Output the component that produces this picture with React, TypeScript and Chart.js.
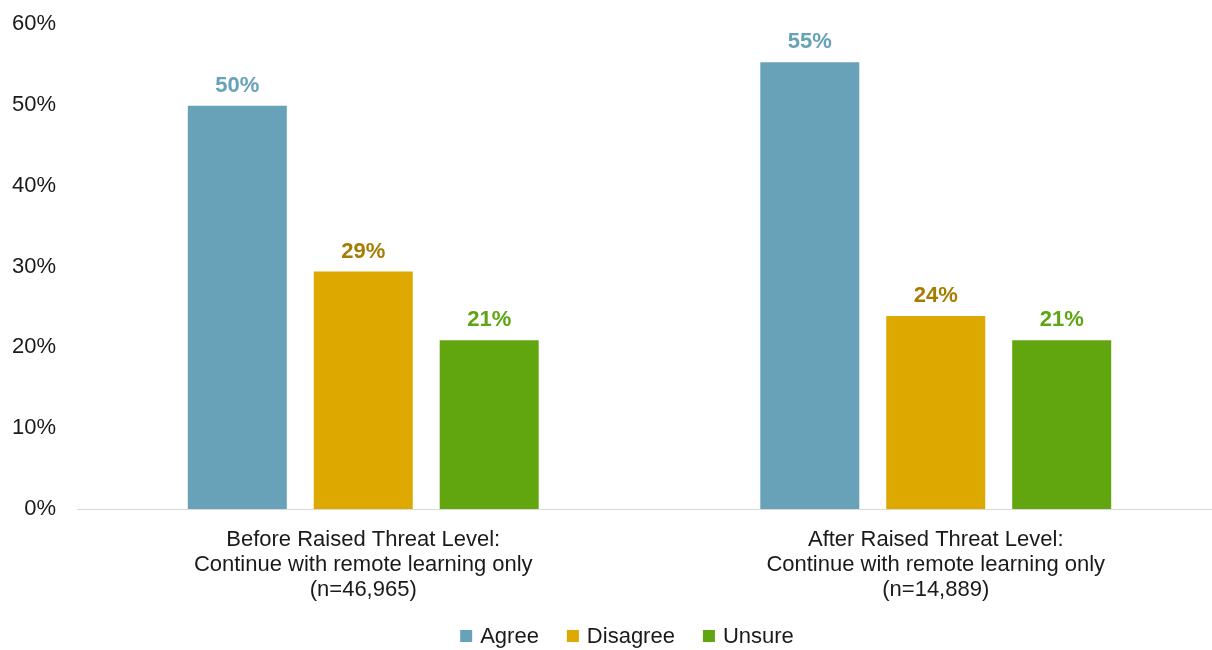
import React, { useEffect, useRef } from "react";
import { Chart, registerables } from "chart.js";

Chart.register(...registerables);

const categories: string[][] = [
  ["Before Raised Threat Level:", "Continue with remote learning only", "(n=46,965)"],
  ["After Raised Threat Level:", "Continue with remote learning only", "(n=14,889)"],
];
const agree = [49.9, 55.3];
const disagree = [29.4, 23.9];
const unsure = [20.9, 20.9];
const yTicks = [0, 10, 20, 30, 40, 50, 60];

const seriesNames = ["Agree", "Disagree", "Unsure"];
const barColors = ["#68A2B9", "#DDA900", "#62A60F"];
const labelColors = ["#68A2B9", "#A67C00", "#5EA514"];

const FONT = "'Liberation Sans', Arial, sans-serif";

const valueLabels = {
  id: "valueLabels",
  afterDatasetsDraw(chart: any) {
    const ctx = chart.ctx;
    ctx.save();
    ctx.font = `bold 22px ${FONT}`;
    ctx.textAlign = "center";
    ctx.textBaseline = "bottom";
    chart.data.datasets.forEach((ds: any, i: number) => {
      const meta = chart.getDatasetMeta(i);
      meta.data.forEach((el: any, j: number) => {
        ctx.fillStyle = labelColors[i];
        ctx.fillText(Math.round(ds.data[j]) + "%", el.x, el.y - 9);
      });
    });
    ctx.restore();
  },
};

const bottomLegend = {
  id: "bottomLegend",
  afterDraw(chart: any) {
    const ctx = chart.ctx;
    ctx.save();
    ctx.font = `22px ${FONT}`;
    ctx.textBaseline = "middle";
    ctx.textAlign = "left";
    const box = 12;
    const gap = 8;
    const itemGap = 28;
    const widths = chart.data.datasets.map((ds: any) => ctx.measureText(ds.label).width);
    const total =
      widths.reduce((a: number, w: number) => a + box + gap + w, 0) + itemGap * (widths.length - 1);
    let x = chart.width / 2 + 16 - total / 2;
    const y = chart.height - 14;
    chart.data.datasets.forEach((ds: any, i: number) => {
      ctx.fillStyle = ds.backgroundColor;
      ctx.fillRect(x, y - box / 2, box, box);
      x += box + gap;
      ctx.fillStyle = "#1a1a1a";
      ctx.fillText(ds.label, x, y + 1);
      x += widths[i] + itemGap;
    });
    ctx.restore();
  },
};

export default function App() {
  const ref = useRef<HTMLCanvasElement>(null);
  useEffect(() => {
    const chart = new Chart(ref.current!, {
      type: "bar",
      data: {
        labels: categories,
        datasets: [agree, disagree, unsure].map((d, i) => ({
          label: seriesNames[i],
          data: d,
          backgroundColor: barColors[i],
          borderWidth: 0,
          categoryPercentage: 0.66,
          barPercentage: 0.786,
        })),
      },
      options: {
        animation: false,
        responsive: false,
        layout: { padding: { top: 0, left: 0, right: 0, bottom: 30 } },
        plugins: {
          legend: { display: false },
          tooltip: { enabled: false },
        },
        scales: {
          x: {
            grid: { display: false, drawTicks: false },
            border: { display: true, color: "#d9d9d9", width: 1 },
            ticks: {
              color: "#1a1a1a",
              font: { family: FONT, size: 22, lineHeight: "25px" },
              padding: 18,
              maxRotation: 0,
            },
          },
          y: {
            min: 0,
            max: 60,
            afterBuildTicks: (s: any) => {
              s.ticks = yTicks.map((v) => ({ value: v }));
            },
            afterFit: (s: any) => {
              s.width = 77;
            },
            grid: { display: false, drawTicks: false },
            border: { display: false },
            ticks: {
              color: "#1a1a1a",
              font: { family: FONT, size: 22 },
              padding: 21,
              callback: (v: any) => v + "%",
            },
          },
        },
      },
      plugins: [valueLabels, bottomLegend],
    });
    return () => chart.destroy();
  }, []);
  return (
    <div style={{ position: "fixed", left: 0, top: 0, width: 1212, height: 650, overflow: "hidden", background: "#fff" }}>
      <canvas ref={ref} width={1222} height={660} style={{ position: "absolute", left: 0, top: -10 }} />
    </div>
  );
}
